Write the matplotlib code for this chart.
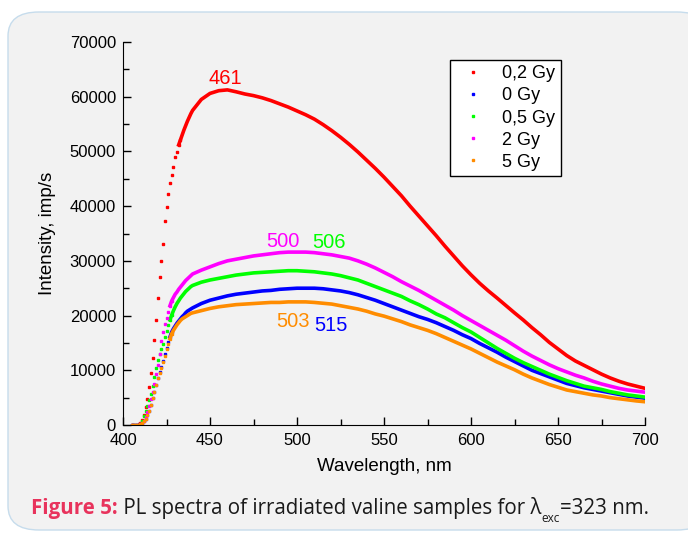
import numpy as np
import matplotlib.pyplot as plt
from matplotlib.patches import FancyBboxPatch
from matplotlib.ticker import MultipleLocator

# wavelength grid: 1 nm steps on the rising edge, 5 nm steps afterwards
wl_rise = np.arange(405, 440, 1)
wl_main = np.arange(440, 701, 5)

labels = ['0,2 Gy', '0 Gy', '0,5 Gy', '2 Gy', '5 Gy']
colors = ['#ff0000', '#0000ff', '#00ff00', '#ff00ff', '#ff8c00']

# 0,2 Gy
red_rise = [0, 0, 0, 0, 100, 300, 1000, 1900, 3200, 4800, 6900, 9500, 12300, 15500, 19200,
            23200, 27000, 30000, 33100, 37300, 39800, 42200, 44200, 45700, 47200, 48900,
            49900, 51200, 52100, 53000, 53900, 54700, 55500, 56200, 56900]
red_main = [57500, 59500, 60600, 61100, 61250, 60900, 60500, 60200, 59800, 59300, 58700,
            58100, 57400, 56700, 55900, 54900, 53800, 52600, 51300, 49900, 48400, 46900,
            45300, 43600, 41900, 40000, 38200, 36400, 34600, 32700, 30900, 29100, 27450,
            25900, 24500, 23200, 21850, 20500, 19200, 17800, 16500, 15100, 13900, 12700,
            11700, 10900, 10100, 9300, 8600, 8000, 7500, 7100, 6700]
# 0 Gy
blue_rise = [0, 0, 0, 0, 0, 100, 400, 700, 1100, 1800, 2600, 3700, 4900, 6000, 7400, 8500,
             9600, 10600, 11700, 12900, 14000, 15100, 16100, 17000, 17600, 18100, 18600,
             19000, 19400, 19800, 20100, 20500, 20800, 21000, 21200]
blue_main = [21400, 22200, 22800, 23200, 23600, 23900, 24100, 24300, 24500, 24600, 24800,
             24900, 25000, 25000, 25000, 24900, 24700, 24500, 24200, 23800, 23300, 22800,
             22200, 21600, 21000, 20400, 19800, 19300, 18700, 18000, 17300, 16500, 15800,
             14900, 14100, 13300, 12400, 11600, 10800, 10000, 9400, 8800, 8200, 7600, 7200,
             6800, 6500, 6200, 5900, 5600, 5300, 5100, 4900]
# 0,5 Gy
green_rise = [0, 0, 0, 0, 0, 200, 700, 1700, 2600, 3400, 4600, 5700, 7200, 8700, 10400,
              11800, 13000, 13900, 14800, 16000, 17100, 18200, 19200, 20100, 20900, 21600,
              22200, 22700, 23200, 23600, 24000, 24400, 24700, 25000, 25300]
green_main = [25500, 26100, 26500, 26800, 27100, 27400, 27600, 27800, 27900, 28000, 28100,
              28200, 28200, 28100, 28000, 27800, 27600, 27300, 26900, 26500, 25900, 25300,
              24700, 24100, 23500, 22700, 22000, 21200, 20300, 19600, 18700, 17800, 17000,
              16000, 15000, 14000, 13100, 12200, 11400, 10700, 10000, 9300, 8700, 8100, 7600,
              7100, 6800, 6500, 6100, 5800, 5500, 5300, 5100]
# 2 Gy
mag_rise = [0, 0, 0, 0, 0, 100, 300, 800, 1500, 2400, 3500, 4800, 6000, 7500, 9300, 10900,
            13000, 15300, 17000, 18400, 19600, 20600, 21800, 22700, 23300, 23900, 24300,
            24800, 25200, 25600, 26000, 26400, 26700, 27000, 27300]
mag_main = [27600, 28300, 28900, 29500, 30000, 30300, 30600, 30900, 31100, 31300, 31500,
            31600, 31600, 31600, 31500, 31300, 31100, 30800, 30500, 30000, 29400, 28700,
            27900, 27100, 26200, 25400, 24600, 23700, 22800, 21900, 21000, 20000, 19100,
            18200, 17300, 16400, 15500, 14500, 13500, 12600, 11800, 11000, 10300, 9700, 9100,
            8600, 8000, 7500, 7100, 6700, 6400, 6200, 6000]
# 5 Gy
orange_rise = [0, 0, 0, 0, 0, 100, 400, 700, 1100, 1800, 2600, 3700, 4900, 6000, 7400, 8500,
               9500, 10500, 11500, 12700, 13800, 14800, 15800, 16700, 17300, 17800, 18300,
               18700, 19100, 19400, 19600, 19800, 20000, 20200, 20400]
orange_main = [20500, 20900, 21300, 21600, 21800, 22000, 22100, 22200, 22300, 22400, 22400,
               22500, 22500, 22500, 22400, 22250, 22100, 21800, 21500, 21200, 20800, 20300,
               19900, 19400, 18900, 18300, 17800, 17300, 16700, 16000, 15300, 14600, 13900,
               13100, 12300, 11500, 10800, 10100, 9300, 8600, 8000, 7400, 6900, 6400, 6100,
               5800, 5500, 5300, 5000, 4800, 4600, 4400, 4250]

rises = [red_rise, blue_rise, green_rise, mag_rise, orange_rise]
mains = [red_main, blue_main, green_main, mag_main, orange_main]
line_from = [432, 427, 427, 427, 427]  # where the dots merge into a solid trace

# peak labels (x, baseline y)
peak_text = ['461', '500', '506', '503', '515']
peak_pos = [(459, 62400), (492, 32600), (518.5, 32300), (497.5, 17900), (519.5, 17200)]
peak_col = ['#ff0000', '#ff00ff', '#00ff00', '#ff8c00', '#0000ff']

plt.rcParams['font.family'] = ['Liberation Sans', 'DejaVu Sans']

fig = plt.figure(figsize=(6.88, 5.33), dpi=100)
fig.patch.set_facecolor('white')

# rounded grey card behind everything
card = FancyBboxPatch((8 / 688, 3 / 533), 700 / 688, 518 / 533,
                      boxstyle='round,pad=0,rounding_size=0.045',
                      transform=fig.transFigure, facecolor='#f2f2f2',
                      edgecolor='#c6dcec', linewidth=1.0, zorder=-10)
fig.patches.append(card)

ax = fig.add_axes([123 / 688, 1 - 425 / 533, 522 / 688, 383 / 533])
ax.patch.set_alpha(0)

wl = np.concatenate([wl_rise, wl_main])
for lab, col, r, m, start in zip(labels, colors, rises, mains, line_from):
    y = np.concatenate([r, m])
    dots = wl < start + 2
    ax.plot(wl[dots], y[dots], ls='none', marker='s', ms=2.1, color=col, mec=col, label=lab)
    sel = wl >= start
    ax.plot(wl[sel], y[sel], '-', lw=2.6, color=col)

for t, (px, py), c in zip(peak_text, peak_pos, peak_col):
    ax.text(px, py, t, color=c, fontsize=14.5, ha='center', va='baseline')

ax.set_xlim(400, 700)
ax.set_ylim(0, 70000)
ax.xaxis.set_major_locator(MultipleLocator(50))
ax.xaxis.set_minor_locator(MultipleLocator(25))
ax.yaxis.set_major_locator(MultipleLocator(10000))
ax.yaxis.set_minor_locator(MultipleLocator(5000))
ax.tick_params(which='both', direction='in', labelsize=12, width=1)
ax.tick_params(which='major', length=6, pad=5)
ax.tick_params(axis='x', which='major', pad=6)
ax.tick_params(which='minor', length=4)
ax.spines['top'].set_visible(False)
ax.spines['right'].set_visible(False)
ax.set_xlabel('Wavelength, nm', fontsize=13.5, labelpad=7)
ax.set_ylabel('Intensity, imp/s', fontsize=13.5, labelpad=10)

leg = ax.legend(loc='upper left', bbox_to_anchor=(0.626, 0.953), fontsize=13,
                frameon=True, fancybox=False, edgecolor='black', framealpha=1,
                markerscale=1.0, handlelength=2.0, handletextpad=0.6,
                labelspacing=0.28, borderpad=0.3, borderaxespad=0)
leg.get_frame().set_linewidth(1.0)

# caption, pieces chained one after another
cap_font = ['Open Sans', 'DejaVu Sans']
t1 = fig.text(31 / 688, 1 - 514 / 533, 'Figure 5:', color='#e8335c', fontsize=14.8,
              fontweight='bold', family=cap_font, va='baseline')
t2 = ax.annotate(' PL spectra of irradiated valine samples for \u03bb', xy=(1, 0),
                 xycoords=t1, va='bottom', ha='left', fontsize=14.8, family=cap_font,
                 color='#1a1a1a', annotation_clip=False)
t3 = ax.annotate('exc', xy=(1, 0), xycoords=t2, xytext=(0, -4), textcoords='offset points',
                 va='bottom', ha='left', fontsize=8.5, family=cap_font, color='#1a1a1a',
                 annotation_clip=False)
t4 = ax.annotate('=323 nm.', xy=(1, 0), xycoords=t3, xytext=(0, 4),
                 textcoords='offset points', va='bottom', ha='left', fontsize=14.8,
                 family=cap_font, color='#1a1a1a', annotation_clip=False)

fig.savefig('out.png', dpi=100)
